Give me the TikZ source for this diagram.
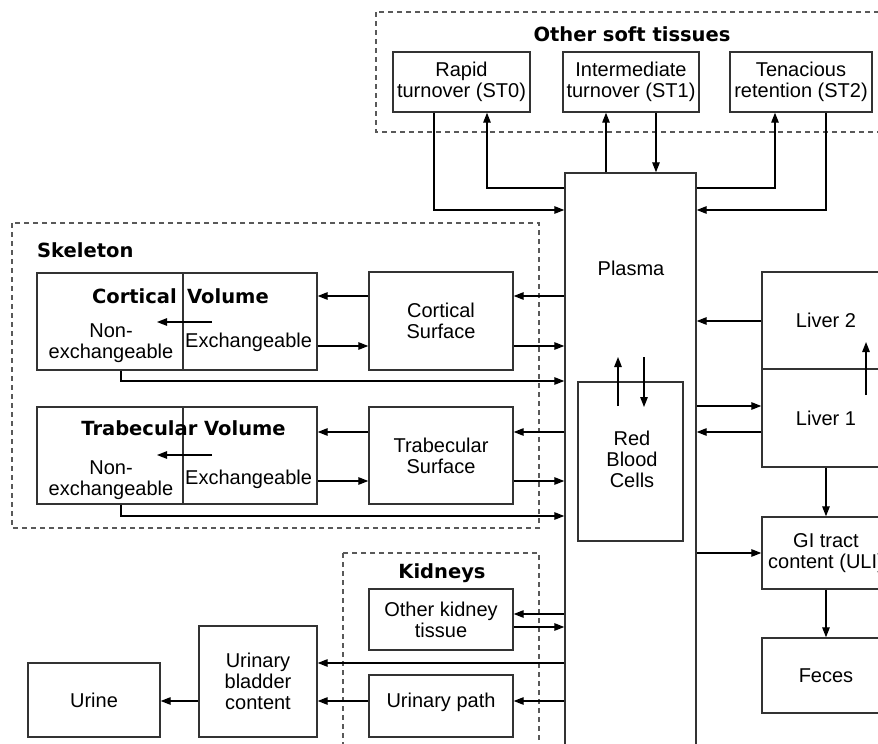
\documentclass[tikz,border=0pt]{standalone}
\usepackage{fontspec}
\setmainfont{Liberation Sans}
\newfontfamily\headfamily{DejaVu Sans}
\usetikzlibrary{arrows.meta}
\newcommand\regtext{\fontsize{20}{21}\selectfont}
\newcommand\headtext{\headfamily\bfseries\fontsize{19.5}{21}\selectfont}
\tikzset{
  box/.style={draw=black!80, line width=1.4pt, inner sep=0pt, align=center, font=\regtext},
  sz/.style 2 args={minimum width=#1pt, minimum height=#2pt},
  grp/.style={draw=black!65, line width=1.2pt, dash pattern=on 5pt off 4pt},
  arr/.style={draw=black, line width=1.3pt, -{Triangle[length=10pt,width=7.5pt]}},
  lbl/.style={inner sep=0pt, align=center, font=\regtext},
  head/.style={inner sep=0pt, font=\headtext},
}
\begin{document}
\begin{tikzpicture}[x=1pt, y=-1pt]
\useasboundingbox (0,0) rectangle (878,744);
\clip (0,0) rectangle (878,744);

% compartment groups
\draw[grp] (376,12) rectangle (890,132);
\node[head] (softlbl) at (632,34) {Other soft tissues};
\draw[grp] (12,223) rectangle (539,528);
\node[head, anchor=west] (skellbl) at (37,250) {Skeleton};
\draw[grp] (343,553) rectangle (539,760);
\node[head] (kidlbl) at (442,573) {Kidneys};

% soft tissues
\node[box, sz={137}{60}] (st0) at (461.5,82) {Rapid\\turnover (ST0)};
\node[box, sz={136}{60}] (st1) at (631,82) {Intermediate\\turnover (ST1)};
\node[box, sz={142}{60}] (st2) at (801,82) {Tenacious\\retention (ST2)};

% plasma and red blood cells
\node[box, sz={131}{587}] (plasma) at (630.5,466.5) {};
\node[lbl] (plasmatxt) at (631,268) {Plasma};
\node[box, sz={105}{159}] (rbc) at (630.5,461.5) {};
\node[lbl] (rbctxt) at (632,459) {Red\\Blood\\Cells};

% liver and GI tract
\node[box, sz={128}{97}] (liv2) at (826,320.5) {Liver 2};
\node[box, sz={128}{98}] (liv1) at (826,418) {Liver 1};
\node[box, sz={128}{72}] (gi) at (826,553) {GI tract\\content (ULI)};
\node[box, sz={128}{75}] (feces) at (826,675.5) {Feces};

% skeleton
\node[box, sz={280}{97}] (cv) at (177,321.5) {};
\draw[draw=black!80, line width=1.4pt] (cv.north -| 183,0) -- (cv.south -| 183,0);
\node[head, anchor=east] (cvt1) at (177,296) {Cortical};
\node[head, anchor=west] (cvt2) at (187,296) {Volume};
\node[lbl] (cvnon) at (111,343) {Non-\\exchangeable};
\node[lbl, anchor=west] (cvex) at (185,342) {Exchangeable};
\node[box, sz={144}{98}] (cs) at (441,321) {Cortical\\Surface};

\node[box, sz={280}{97}] (tv) at (177,455.5) {};
\draw[draw=black!80, line width=1.4pt] (tv.north -| 183,0) -- (tv.south -| 183,0);
\node[head] (tvt) at (183.5,428) {Trabecular Volume};
\node[lbl] (tvnon) at (111,480) {Non-\\exchangeable};
\node[lbl, anchor=west] (tvex) at (185,479) {Exchangeable};
\node[box, sz={144}{97}] (ts) at (441,455.5) {Trabecular\\Surface};

% kidneys and urinary path
\node[box, sz={144}{61}] (okt) at (441,619.5) {Other kidney\\tissue};
\node[box, sz={144}{62}] (up) at (441,706) {};
\node[lbl] (uptxt) at (441,702) {Urinary path};
\node[box, sz={118}{111}] (blad) at (258,681.5) {Urinary\\bladder\\content};
\node[box, sz={132}{74}] (urine) at (94,700) {Urine};

% inner transfer points
\coordinate (cvxa) at (212,322);
\coordinate (cvna) at (157,322);
\coordinate (tvxa) at (212,455);
\coordinate (tvna) at (157,455);
\coordinate (rbcA) at (618,406);
\coordinate (rbcB) at (618,357);
\coordinate (rbcC) at (644,357);
\coordinate (rbcD) at (644,407);
\coordinate (livA) at (866,395);
\coordinate (livB) at (866,342);

% soft tissue exchange
\draw[arr] (st0.south -| 434,0) |- (plasma.west |- 0,210);
\draw[arr] (plasma.west |- 0,188) -| (st0.south -| 487,0);
\draw[arr] (plasma.north -| 606,0) -- (st1.south -| 606,0);
\draw[arr] (st1.south -| 656,0) -- (plasma.north -| 656,0);
\draw[arr] (plasma.east |- 0,188) -| (st2.south -| 775,0);
\draw[arr] (st2.south -| 826,0) |- (plasma.east |- 0,210);

% skeleton exchange
\draw[arr] (plasma.west |- 0,296) -- (cs.east |- 0,296);
\draw[arr] (cs.west |- 0,296) -- (cv.east |- 0,296);
\draw[arr] (cv.east |- 0,346) -- (cs.west |- 0,346);
\draw[arr] (cs.east |- 0,346) -- (plasma.west |- 0,346);
\draw[arr] (cv.south -| 121,0) |- (plasma.west |- 0,381);
\draw[arr] (cvxa) -- (cvna);

\draw[arr] (plasma.west |- 0,432) -- (ts.east |- 0,432);
\draw[arr] (ts.west |- 0,432) -- (tv.east |- 0,432);
\draw[arr] (tv.east |- 0,481) -- (ts.west |- 0,481);
\draw[arr] (ts.east |- 0,481) -- (plasma.west |- 0,481);
\draw[arr] (tv.south -| 121,0) |- (plasma.west |- 0,516);
\draw[arr] (tvxa) -- (tvna);

% red blood cells
\draw[arr] (rbcA) -- (rbcB);
\draw[arr] (rbcC) -- (rbcD);

% liver and GI tract
\draw[arr] (liv2.west |- 0,321) -- (plasma.east |- 0,321);
\draw[arr] (plasma.east |- 0,406) -- (liv1.west |- 0,406);
\draw[arr] (liv1.west |- 0,432) -- (plasma.east |- 0,432);
\draw[arr] (livA) -- (livB);
\draw[arr] (liv1.south) -- (gi.north);
\draw[arr] (plasma.east |- gi.west) -- (gi.west);
\draw[arr] (gi.south) -- (feces.north);

% kidneys and urinary excretion
\draw[arr] (plasma.west |- 0,614) -- (okt.east |- 0,614);
\draw[arr] (okt.east |- 0,627) -- (plasma.west |- 0,627);
\draw[arr] (plasma.west |- 0,663) -- (blad.east |- 0,663);
\draw[arr] (plasma.west |- 0,701) -- (up.east |- 0,701);
\draw[arr] (up.west |- 0,701) -- (blad.east |- 0,701);
\draw[arr] (blad.west |- 0,701) -- (urine.east |- 0,701);
\end{tikzpicture}
\end{document}
